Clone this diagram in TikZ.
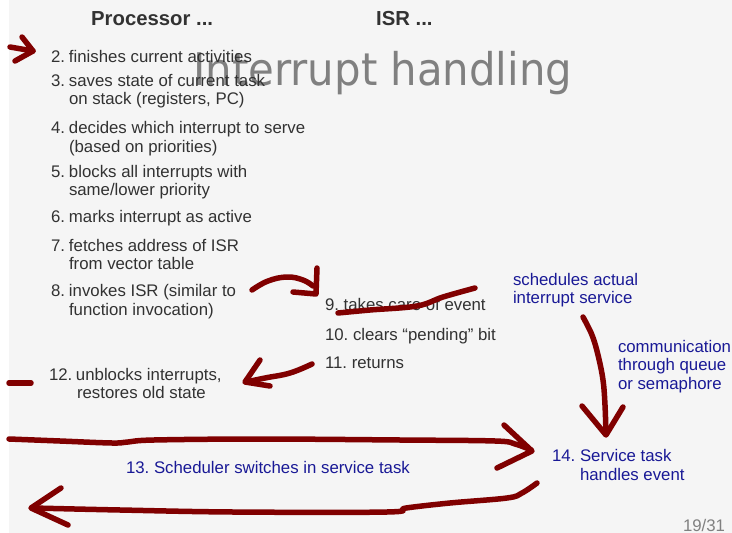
\documentclass[tikz,border=0pt]{standalone}
\usepackage{fontspec}
\setmainfont{Liberation Sans}
\newfontfamily\titlefont{DejaVu Sans}
\definecolor{slidebg}{RGB}{245,245,245}
\definecolor{bodytext}{RGB}{50,50,50}
\definecolor{navytext}{RGB}{25,25,150}
\definecolor{penred}{RGB}{128,0,0}
\definecolor{titlegray}{RGB}{128,128,128}
\frenchspacing
\begin{document}
\begin{tikzpicture}[x=1pt,y=-1pt,
  txt/.style={anchor=base west,inner sep=0pt,outer sep=0pt,text=bodytext,
    font=\fontsize{16.8}{18.5}\selectfont},
  bluetxt/.style={txt,text=navytext},
  head/.style={anchor=base west,inner sep=0pt,text=bodytext,
    font=\fontsize{20.3}{24}\selectfont\bfseries},
  pen/.style={draw=penred,line width=5.5pt,line cap=round,line join=round}]
\useasboundingbox (0,0) rectangle (732,533);
\fill[white] (0,0) rectangle (732,533);
\fill[slidebg] (9,0) rectangle (732,533);

% slide title
\node[anchor=base west,inner sep=0pt,text=titlegray] (title) at (193,85)
  {\scalebox{0.93}[1]{\titlefont\fontsize{45}{50}\selectfont Interrupt handling}};

% column headings
\node[head] (hproc) at (91,25) {Processor ...};
\node[head] (hisr) at (376,25) {ISR ...};

% processor steps
\newcommand\num[1]{\makebox[18pt][l]{#1}}
\node[txt] (p2)  at (51,62)  {\num{2.}finishes current activities};
\node[txt] (p3)  at (51,86)  {\num{3.}saves state of current task};
\node[txt] (p3b) at (69,104) {on stack (registers, PC)};
\node[txt] (p4)  at (51,133) {\num{4.}decides which interrupt to serve};
\node[txt] (p4b) at (69,152) {(based on priorities)};
\node[txt] (p5)  at (51,177) {\num{5.}blocks all interrupts with};
\node[txt] (p5b) at (69,195) {same/lower priority};
\node[txt] (p6)  at (51,222) {\num{6.}marks interrupt as active};
\node[txt] (p7)  at (51,251) {\num{7.}fetches address of ISR};
\node[txt] (p7b) at (69,269) {from vector table};
\node[txt] (p8)  at (51,296) {\num{8.}invokes ISR (similar to};
\node[txt] (p8b) at (69,315) {function invocation)};
\node[txt] (p12)  at (49,380) {\makebox[27pt][l]{12.}unblocks interrupts,};
\node[txt] (p12b) at (77,398) {restores old state};

% ISR steps
\node[txt] (i9)  at (325,310) {9. takes care of event};
\node[txt] (i10) at (325,340) {10. clears “pending” bit};
\node[txt] (i11) at (325,368) {11. returns};

% service task annotations
\node[bluetxt] (s1)  at (513,285) {schedules actual};
\node[bluetxt] (s1b) at (513,303) {interrupt service};
\node[bluetxt] (c1)  at (618,352) {communication};
\node[bluetxt] (c1b) at (618,370) {through queue};
\node[bluetxt] (c1c) at (618,389) {or semaphore};
\node[bluetxt] (t14)  at (552,461) {14. Service task};
\node[bluetxt] (t14b) at (580,480) {handles event};
\node[bluetxt] (t13)  at (126,473) {13. Scheduler switches in service task};

% page number
\node[txt,text=titlegray] (page) at (683,531) {19/31};

% hand-drawn marks
% interrupt arrives
\draw[pen] (10,47) -- (33,51);
\draw[pen] (22,37) -- (33,51) -- (15,61);
% return mark
\draw[pen] (9,383) -- (31,383);
% jump into the ISR
\draw[pen] plot[smooth,tension=0.7] coordinates {(252,290) (268,281) (287,277) (303,280) (313,286)};
\draw[pen] (317,268) -- (316,294) -- (293,292);
% step 9 struck out
\draw[pen] plot[smooth,tension=0.6] coordinates {(338,313) (370,310) (417,306) (443,297) (475,288)};
% return from the ISR
\draw[pen] plot[smooth,tension=0.7] coordinates {(312,364) (290,373) (265,378) (246,382)};
\draw[pen] (260,360) -- (245,382) -- (270,386);
% signal to the service task
\draw[pen] plot[smooth,tension=0.6] coordinates {(583,317) (592,335) (598,355) (603,380) (605,405) (606,434)};
\draw[pen] (582,406) -- (606,435) -- (623,407);
% switch into the service task
\draw[pen] plot[smooth,tension=0.6] coordinates {(9,439) (60,441) (112,443) (128,442) (154,440) (261,439) (400,440) (495,441) (515,444) (531,450)};
\draw[pen] (504,425) -- (532,451) -- (497,468);
% back to the interrupted task
\draw[pen] plot[smooth,tension=0.6] coordinates {(537,483) (522,493) (507,498) (450,503) (406,508) (387,512) (233,512) (120,510) (33,508)};
\draw[pen] (61,488) -- (31,508) -- (68,525);
\end{tikzpicture}
\end{document}
